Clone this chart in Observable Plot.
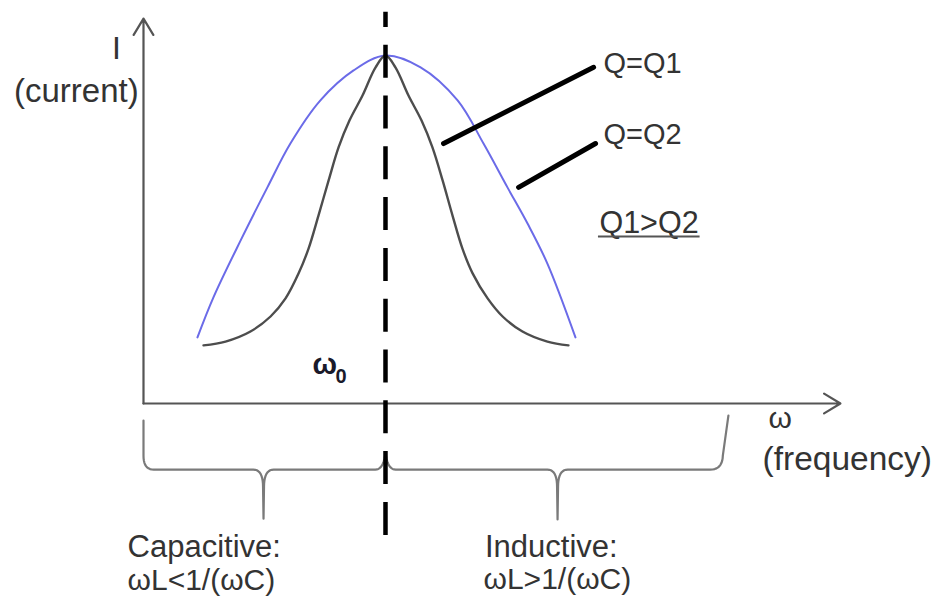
<!DOCTYPE html>
<html>
<head>
<meta charset="utf-8">
<script src="https://cdn.jsdelivr.net/npm/d3@7"></script>
<script src="https://cdn.jsdelivr.net/npm/@observablehq/plot@0.6"></script>
<style>
  html, body { margin: 0; padding: 0; background: #fff; }
  #chart svg { display: block; }
</style>
</head>
<body>
<div id="chart"></div>
<script>
// Resonance curves of a series RLC circuit: current I against angular frequency ω,
// in units where the resonant frequency ω0 = 1 and the peak current = 1.

const omega0 = 1;

// High quality factor (Q = Q1): narrow, sharp peak
const q1Omega   = [0.248, 0.339, 0.442, 0.525, 0.587, 0.641, 0.682, 0.723, 0.765, 0.806, 0.851, 0.905, 0.959, 1.000,
                   1.041, 1.095, 1.149, 1.194, 1.236, 1.277, 1.318, 1.360, 1.422, 1.484, 1.566, 1.669, 1.756];
const q1Current = [0.167, 0.178, 0.207, 0.250, 0.302, 0.374, 0.445, 0.540, 0.641, 0.736, 0.813, 0.885, 0.966, 1.000,
                   0.966, 0.885, 0.813, 0.736, 0.641, 0.540, 0.445, 0.374, 0.302, 0.250, 0.207, 0.178, 0.167];

// Low quality factor (Q = Q2): broad peak
const q2Omega   = [0.223, 0.289, 0.401, 0.512, 0.607, 0.731, 0.868, 1.000,
                   1.145, 1.298, 1.405, 1.504, 1.587, 1.669, 1.785];
const q2Current = [0.190, 0.305, 0.468, 0.621, 0.747, 0.871, 0.957, 1.000,
                   0.966, 0.871, 0.747, 0.621, 0.517, 0.402, 0.190];

// Leader lines from the curve labels to the curves
const leaderFromOmega   = [1.240, 1.550];
const leaderFromCurrent = [0.747, 0.621];
const leaderToOmega     = [1.860, 1.868];
const leaderToCurrent   = [0.966, 0.747];

// Brace below the frequency axis splitting the capacitive and inductive regions
const braceLevel        = -0.190;
const braceEndOmega     = [0.000, 2.417];
const braceEndCurrent   = [-0.049, -0.035];
const braceTipOmega     = [0.496, 1.711];
const braceTipCurrent   = [-0.331, -0.333];
const braceApexCurrent  = -0.141;

// Axis extents (arrow tips)
const omegaAxisEnd = 2.880;
const currentAxisEnd = 1.106;

// Dashed resonance marker extent
const markerBottom = -0.379;
const markerTop = 1.124;

// Curve labels
const labelText  = ["Q=Q1", "Q=Q2"];
const labelOmega = [1.901, 1.901];
const labelCurrent = [0.951, 0.747];

// Q1 > Q2 note and its underline
const noteText = "Q1>Q2";
const noteOmega = 1.884, noteCurrent = 0.491;
const underlineOmega = [1.880, 2.300], underlineCurrent = 0.480;

const q1 = q1Omega.map((w, i) => ({omega: w, current: q1Current[i]}));
const q2 = q2Omega.map((w, i) => ({omega: w, current: q2Current[i]}));
const leaders = leaderFromOmega.map((w, i) => ({
  x1: w, y1: leaderFromCurrent[i], x2: leaderToOmega[i], y2: leaderToCurrent[i]
}));
const labels = labelText.map((t, i) => ({text: t, omega: labelOmega[i], current: labelCurrent[i]}));

// Build the brace outline as a polyline of points in (ω, I) space
function quad(p0, c, p1, n = 10) {
  const out = [];
  for (let k = 1; k <= n; k++) {
    const t = k / n, u = 1 - t;
    out.push([u * u * p0[0] + 2 * u * t * c[0] + t * t * p1[0],
              u * u * p0[1] + 2 * u * t * c[1] + t * t * p1[1]]);
  }
  return out;
}
function bracePoints() {
  const L = braceLevel, rx = 0.042, ry = 0.04, drop = 0.05, apexRx = 0.042;
  const pts = [];
  const x0 = braceEndOmega[0];
  pts.push([x0, braceEndCurrent[0]], [x0, L + ry]);
  pts.push(...quad([x0, L + ry], [x0, L], [x0 + rx, L]));
  const tip = (w, I) => {
    pts.push([w - rx, L]);
    pts.push(...quad([w - rx, L], [w - 0.002, L], [w - 0.002, L - drop]));
    pts.push([w, I]);
    pts.push([w + 0.002, L - drop]);
    pts.push(...quad([w + 0.002, L - drop], [w + 0.002, L], [w + rx, L]));
  };
  tip(braceTipOmega[0], braceTipCurrent[0]);
  pts.push([omega0 - apexRx, L]);
  pts.push(...quad([omega0 - apexRx, L], [omega0 - 0.008, L], [omega0, braceApexCurrent]));
  pts.push(...quad([omega0, braceApexCurrent], [omega0 + 0.008, L], [omega0 + apexRx, L]));
  tip(braceTipOmega[1], braceTipCurrent[1]);
  const x1 = braceEndOmega[1], corner = x1 - 0.033;
  pts.push([corner - rx, L]);
  pts.push(...quad([corner - rx, L], [corner + 0.008, L], [corner + 0.01, L + ry]));
  pts.push([x1, braceEndCurrent[1]]);
  return pts;
}

const font = "Liberation Sans, Arial, Helvetica, sans-serif";
const ink = "#333";
const txt = (s, x, y, size, extra = {}) =>
  Plot.text([s], {x, y, text: d => d, textAnchor: "start", lineAnchor: "bottom", fontSize: size, fill: ink, ...extra});

const chart = Plot.plot({
  width: 936,
  height: 599,
  margin: 0,
  style: {background: "#fff", fontFamily: font},
  x: {domain: [-0.5909, 3.2769], axis: null},
  y: {domain: [-0.5632, 1.1580], axis: null},
  marks: [
    // axes with open arrowheads
    Plot.arrow([{x1: 0, y1: 0, x2: omegaAxisEnd, y2: 0}, {x1: 0, y1: 0, x2: 0, y2: currentAxisEnd}], {
      x1: "x1", y1: "y1", x2: "x2", y2: "y2",
      stroke: "#555", strokeWidth: 2.2, headLength: 13, headAngle: 62
    }),
    // brace
    Plot.line(bracePoints(), {stroke: "#7a7a7a", strokeWidth: 2.2, strokeLinejoin: "round"}),
    // resonance curves
    Plot.line(q2, {x: "omega", y: "current", curve: "catmull-rom", stroke: "#6b6be8", strokeWidth: 2}),
    Plot.line(q1, {x: "omega", y: "current", curve: "catmull-rom", stroke: "#4d4d4d", strokeWidth: 2.4}),
    // dashed marker at ω0
    Plot.ruleX([omega0], {y1: markerBottom, y2: markerTop, stroke: "#000", strokeWidth: 4.5, strokeDasharray: "33,17.8"}),
    // leader lines
    Plot.link(leaders, {x1: "x1", y1: "y1", x2: "x2", y2: "y2", stroke: "#000", strokeWidth: 5, strokeLinecap: "round"}),
    // labels
    Plot.text(labels, {x: "omega", y: "current", text: "text", textAnchor: "start", lineAnchor: "bottom",
      fontSize: 29, fill: ink}),
    txt(noteText, noteOmega, noteCurrent, 30.5),
    Plot.ruleY([underlineCurrent], {x1: underlineOmega[0], x2: underlineOmega[1], stroke: "#555", strokeWidth: 2}),
    Plot.text(["I"], {x: -0.1116, y: 0.9885, textAnchor: "middle", lineAnchor: "bottom", fontSize: 32, fill: ink}),
    Plot.text(["(current)"], {x: -0.02, y: 0.865, textAnchor: "end", lineAnchor: "bottom", fontSize: 33, fill: ink}),
    txt("ω", 2.583, -0.069, 30),
    txt("(frequency)", 2.558, -0.1925, 33.5),
    txt("ω", 0.698, 0.0862, 29, {fontWeight: "bold", fill: "#1a1a2a"}),
    txt("0", 0.793, 0.0575, 20, {fontWeight: "bold", fill: "#1a1a2a"}),
    txt("Capacitive:", -0.066, -0.4425, 31),
    txt("ωL<1/(ωC)", -0.066, -0.5345, 30),
    txt("Inductive:", 1.411, -0.4425, 31),
    txt("ωL>1/(ωC)", 1.405, -0.5316, 30)
  ]
});

document.getElementById("chart").append(chart);
</script>
</body>
</html>
